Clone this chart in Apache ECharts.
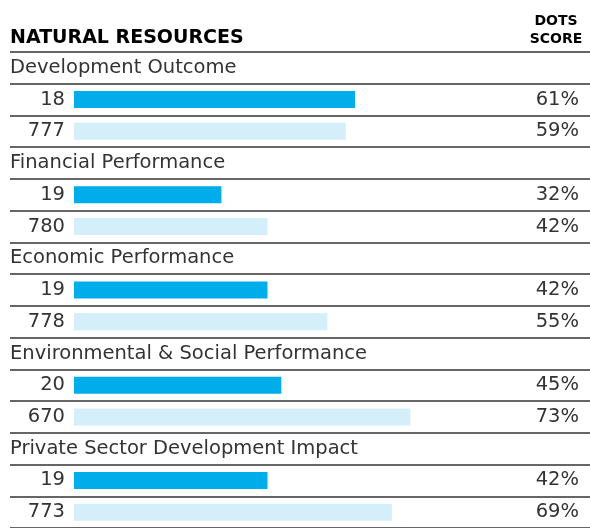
<!DOCTYPE html>
<html>
<head>
<meta charset="utf-8">
<script src="https://cdn.jsdelivr.net/npm/echarts@6/dist/echarts.min.js"></script>
<style>
  html, body { margin: 0; padding: 0; background: #fff; }
  #chart { width: 590px; height: 528px; }
</style>
</head>
<body>
<div id="chart"></div>
<script>
// Natural resources: DOTS scores, recent cohort vs. full portfolio
const groups = [
  'Development Outcome',
  'Financial Performance',
  'Economic Performance',
  'Environmental & Social Performance',
  'Private Sector Development Impact'
];
const recentCounts = [18, 19, 19, 20, 19];
const allCounts = [777, 780, 778, 670, 773];
const recentScores = [61, 32, 42, 45, 42];
const allScores = [59, 42, 55, 73, 69];

const BODY_FONT = "'DejaVu Sans ExtraLight', 'DejaVu Sans', sans-serif";
const BOLD_FONT = "'DejaVu Sans', sans-serif";
const TEXT = '#333333';

// Each group takes three rows: its heading, the recent cohort, the full portfolio
const rowKeys = [], headLabels = [], pctLabels = [], recentData = [], allData = [], countLabels = [];
groups.forEach((g, i) => {
  rowKeys.push('h' + i, 'r' + i, 'a' + i);
  headLabels.push(g, '', '');
  pctLabels.push('', recentScores[i] + '%', allScores[i] + '%');
  recentData.push(null, recentScores[i], null);
  allData.push(null, null, allScores[i]);
  countLabels.push('', recentCounts[i], allCounts[i]);
});

const chart = echarts.init(document.getElementById('chart'), null, { renderer: 'canvas' });

chart.setOption({
  animation: false,
  backgroundColor: '#ffffff',
  title: [
    {
      text: 'NATURAL RESOURCES',
      left: 10, top: 29,
      textStyle: { fontFamily: BOLD_FONT, fontWeight: 'bold', fontSize: 19, color: '#000' },
      padding: 0
    },
    {
      text: 'DOTS\nSCORE',
      left: 556, top: 12, textAlign: 'center',
      textStyle: { fontFamily: BOLD_FONT, fontWeight: 'bold', fontSize: 14, lineHeight: 18, color: '#000', align: 'center' },
      padding: 0
    }
  ],
  grid: { left: 10, right: 0, top: 52, height: 480, containLabel: false },
  xAxis: {
    type: 'value', min: -13.89, max: 112, show: false
  },
  yAxis: [
    {
      type: 'category', inverse: true, data: rowKeys, position: 'left',
      axisLine: { show: false }, axisTick: { show: false },
      splitLine: { show: true, lineStyle: { color: '#333333', width: 1.6 } },
      axisLabel: {
        interval: 0, margin: 0, align: 'left',
        fontFamily: BODY_FONT, fontSize: 19.5, color: TEXT,
        formatter: (v, idx) => headLabels[idx]
      }
    },
    {
      type: 'category', inverse: true, data: rowKeys, position: 'right',
      axisLine: { show: false }, axisTick: { show: false }, splitLine: { show: false },
      axisLabel: {
        interval: 0, margin: -11, align: 'right',
        fontFamily: BODY_FONT, fontSize: 19.5, color: TEXT,
        formatter: (v, idx) => pctLabels[idx]
      }
    }
  ],
  series: [
    {
      name: 'Recent', type: 'bar', data: recentData, barWidth: 17, barGap: '-100%',
      itemStyle: { color: '#00adeb' },
      label: {
        show: true, position: 'left', distance: 9,
        fontFamily: BODY_FONT, fontSize: 19.5, color: TEXT,
        formatter: p => String(countLabels[p.dataIndex])
      }
    },
    {
      name: 'All', type: 'bar', data: allData, barWidth: 17, barGap: '-100%',
      itemStyle: { color: '#d4eefa' },
      label: {
        show: true, position: 'left', distance: 9,
        fontFamily: BODY_FONT, fontSize: 19.5, color: TEXT,
        formatter: p => String(countLabels[p.dataIndex])
      }
    }
  ]
});
</script>
</body>
</html>
